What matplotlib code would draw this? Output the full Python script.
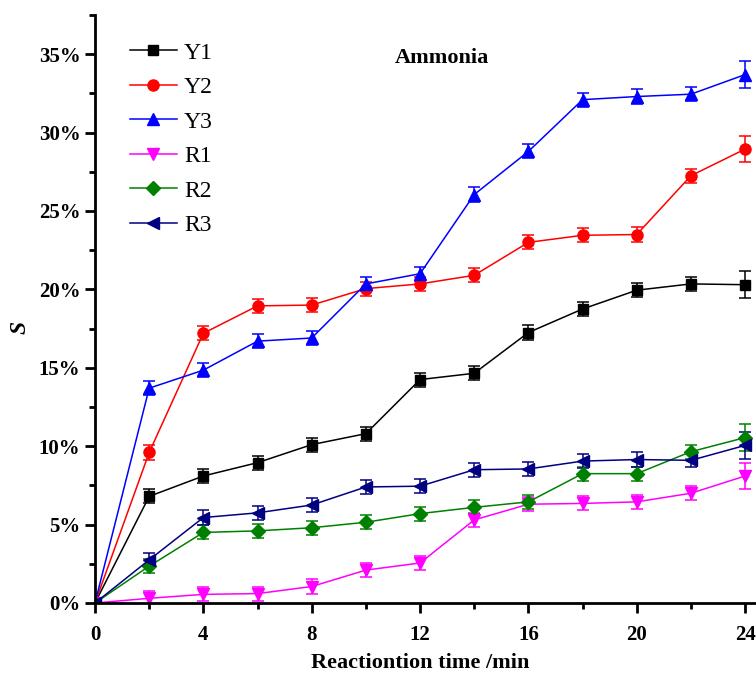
import numpy as np
import matplotlib.pyplot as plt
from matplotlib.ticker import MultipleLocator, FuncFormatter

plt.rcParams['font.family'] = ['Liberation Serif', 'DejaVu Serif']

# Reaction time (min)
time = [0, 2, 4, 6, 8, 10, 12, 14, 16, 18, 20, 22, 24]

# Selectivity S (%)
y1 = [0, 6.8, 8.1, 8.95, 10.1, 10.8, 14.25, 14.65, 17.25, 18.75, 19.95, 20.35, 20.3]
y2 = [0, 9.6, 17.2, 18.95, 19.0, 20.05, 20.35, 20.9, 23.0, 23.45, 23.5, 27.25, 28.95]
y3 = [0, 13.7, 14.85, 16.7, 16.9, 20.35, 21.0, 26.05, 28.8, 32.1, 32.3, 32.45, 33.7]
r1 = [0, 0.3, 0.55, 0.6, 1.05, 2.1, 2.55, 5.3, 6.3, 6.35, 6.45, 7.0, 8.1]
r2 = [0, 2.35, 4.5, 4.6, 4.8, 5.15, 5.7, 6.1, 6.45, 8.25, 8.25, 9.65, 10.55]
r3 = [0, 2.75, 5.45, 5.75, 6.25, 7.4, 7.45, 8.5, 8.55, 9.05, 9.15, 9.1, 10.05]

# error bar half-widths (%)
y1_err = [0, 0.45, 0.45, 0.45, 0.45, 0.45, 0.45, 0.45, 0.45, 0.45, 0.45, 0.45, 0.85]
y2_err = [0, 0.45, 0.45, 0.45, 0.45, 0.45, 0.45, 0.45, 0.45, 0.45, 0.45, 0.45, 0.85]
y3_err = [0, 0.45, 0.45, 0.45, 0.45, 0.45, 0.45, 0.45, 0.45, 0.45, 0.45, 0.45, 0.85]
r1_err = [0, 0.45, 0.45, 0.45, 0.45, 0.45, 0.45, 0.45, 0.45, 0.45, 0.45, 0.45, 0.85]
r2_err = [0, 0.45, 0.45, 0.45, 0.45, 0.45, 0.45, 0.45, 0.45, 0.45, 0.45, 0.45, 0.85]
r3_err = [0, 0.45, 0.45, 0.45, 0.45, 0.45, 0.45, 0.45, 0.45, 0.45, 0.45, 0.45, 0.85]

labels = ['Y1', 'Y2', 'Y3', 'R1', 'R2', 'R3']
series = [y1, y2, y3, r1, r2, r3]
errors = [y1_err, y2_err, y3_err, r1_err, r2_err, r3_err]
colors = ['black', 'red', 'blue', 'magenta', 'green', 'navy']
markers = ['s', 'o', '^', 'v', 'D', '<']
msizes = [7, 8, 8.5, 8.5, 7, 8.5]

fig = plt.figure(figsize=(7.56, 6.77), dpi=100)
ax = fig.add_axes([95 / 756, 74 / 677, 668 / 756, 588 / 677])

handles = []
for ys, err, lab, c, m, ms in zip(series, errors, labels, colors, markers, msizes):
    eb = ax.errorbar(time, ys, yerr=err, color=c, marker=m, markersize=ms, lw=1.1,
                     elinewidth=1.1, capsize=4, capthick=1.1, label=lab)
    handles.append(eb[0])

ax.set_xlim(0, 24.66)
ax.set_ylim(0, 37.5)
ax.xaxis.set_major_locator(MultipleLocator(4))
ax.xaxis.set_minor_locator(MultipleLocator(2))
ax.yaxis.set_major_locator(MultipleLocator(5))
ax.yaxis.set_minor_locator(MultipleLocator(2.5))
ax.yaxis.set_major_formatter(FuncFormatter(lambda v, p: '%d%%' % v))

for s in ['top', 'right']:
    ax.spines[s].set_visible(False)
for s in ['left', 'bottom']:
    ax.spines[s].set_linewidth(2)

ax.tick_params(which='major', direction='out', length=7, width=2, labelsize=15)
ax.tick_params(axis='x', which='major', pad=9)
ax.tick_params(which='minor', direction='out', length=4, width=2)
for t in ax.get_xticklabels() + ax.get_yticklabels():
    t.set_fontweight('bold')

ax.set_xlabel('Reactiontion time /min', fontsize=16, fontweight='bold')
ax.xaxis.set_label_coords((420 - 95) / 668, -0.085)
ax.set_ylabel('S', fontsize=17, fontweight='bold', style='italic')
ax.yaxis.set_label_coords(-0.097, 0.468)
ax.text(0.519, 0.927, 'Ammonia', transform=ax.transAxes, fontsize=16,
        fontweight='bold', ha='center', va='center')

ax.legend(handles, labels, loc='upper left', bbox_to_anchor=(0.02, 0.99), frameon=False,
          fontsize=17, handlelength=2.0, handletextpad=0.3, labelspacing=0.55)

fig.savefig('out.png', dpi=100)
